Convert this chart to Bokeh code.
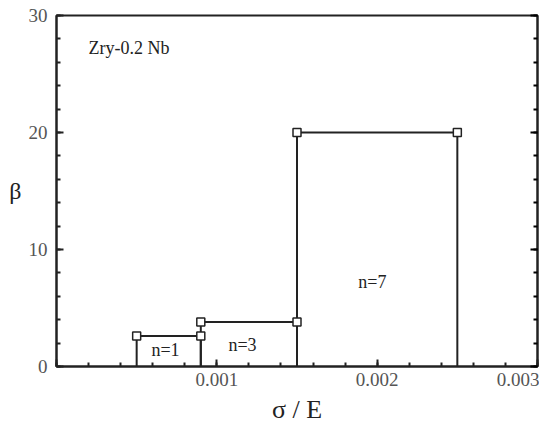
from bokeh.plotting import figure
from bokeh.models import ColumnDataSource, Range1d, LinearAxis, Label, FixedTicker
from bokeh.core.properties import value
from bokeh.embed import file_html
from bokeh.resources import INLINE

# Data
x_left = [0.0005, 0.0009, 0.0015]
x_right = [0.0009, 0.0015, 0.0025]
beta = [2.6, 3.8, 20.0]
step_labels = ["n=1", "n=3", "n=7"]
label_x = [0.00068, 0.00116, 0.00197]
label_y = [1.4, 1.8, 7.2]
x_ticks = [0, 0.001, 0.002, 0.003]
x_tick_labels = ["", "0.001", "0.002", "0.003"]
y_ticks = [0, 10, 20, 30]
y_tick_labels = ["0", "10", "20", "30"]
alloy = "Zry-0.2 Nb"

FONT = "Liberation Serif"
INK = "#222222"
GREY = "#555555"

p = figure(width=539, height=426, x_range=Range1d(0, 0.003), y_range=Range1d(0, 30),
           output_backend="svg", toolbar_location=None,
           min_border_left=56, min_border_right=2, min_border_top=15, min_border_bottom=58)
p.background_fill_color = "white"
p.border_fill_color = "white"
p.grid.visible = False
p.outline_line_color = INK
p.outline_line_width = 2

# Axes
for ax in [p.xaxis[0], p.yaxis[0]]:
    ax.axis_line_width = 2
    ax.axis_line_color = INK
    ax.major_tick_in = 7
    ax.major_tick_out = 0
    ax.minor_tick_in = 4
    ax.minor_tick_out = 0
    ax.major_tick_line_width = 2
    ax.minor_tick_line_width = 2
    ax.major_tick_line_color = INK
    ax.minor_tick_line_color = INK
    ax.major_label_text_font = FONT
    ax.major_label_text_font_size = "19px"
    ax.major_label_text_color = GREY
    ax.axis_label_text_font = FONT
    ax.axis_label_text_font_style = "normal"
    ax.axis_label_text_color = INK

p.xaxis.ticker = FixedTicker(ticks=x_ticks, minor_ticks=[i * 0.0002 for i in range(16)])
p.xaxis.major_label_overrides = {t: l for t, l in zip(x_ticks, x_tick_labels)}
p.xaxis.major_label_standoff = 6
p.xaxis.axis_label = "σ / E"
p.xaxis.axis_label_text_font_size = "26px"
p.xaxis.axis_label_standoff = 6

p.yaxis.ticker = FixedTicker(ticks=y_ticks, minor_ticks=list(range(0, 31, 2)))
p.yaxis.major_label_overrides = {t: l for t, l in zip(y_ticks, y_tick_labels)}
p.yaxis.major_label_standoff = 9
p.yaxis.axis_label = "β"
p.yaxis.axis_label_text_font_size = "24px"
p.yaxis.axis_label_standoff = 4
p.yaxis.axis_label_orientation = "horizontal"

right = LinearAxis(ticker=FixedTicker(ticks=y_ticks, minor_ticks=list(range(0, 31, 2))))
right.major_label_text_font_size = "0px"
right.major_tick_in = 7
right.major_tick_out = 0
right.minor_tick_in = 4
right.minor_tick_out = 0
right.axis_line_width = 2
right.axis_line_color = INK
right.major_tick_line_width = 2
right.minor_tick_line_width = 2
right.major_label_standoff = 0
p.add_layout(right, "right")

# Steps
src_h = ColumnDataSource(dict(x0=x_left, x1=x_right, y=beta))
p.segment(x0="x0", y0="y", x1="x1", y1="y", source=src_h, line_color=INK, line_width=2)
zeros = [0] * len(beta)
p.segment(x0=x_left, y0=zeros, x1=x_left, y1=beta, line_color=INK, line_width=2)
p.segment(x0=x_right, y0=zeros, x1=x_right, y1=beta, line_color=INK, line_width=2)
p.scatter(x=x_left + x_right, y=beta + beta, marker="square", size=8,
          fill_color="white", line_color=INK, line_width=1.5)

p.text(x=label_x, y=label_y, text=step_labels, text_font=value(FONT), text_font_size="18px",
       text_color=INK, text_align="center", text_baseline="middle")

p.add_layout(Label(x=0.0002, y=27.2, text=alloy, text_font=FONT, text_font_size="18px",
                   text_color=INK, text_baseline="middle"))

open("out.html", "w").write(file_html(p, INLINE))
